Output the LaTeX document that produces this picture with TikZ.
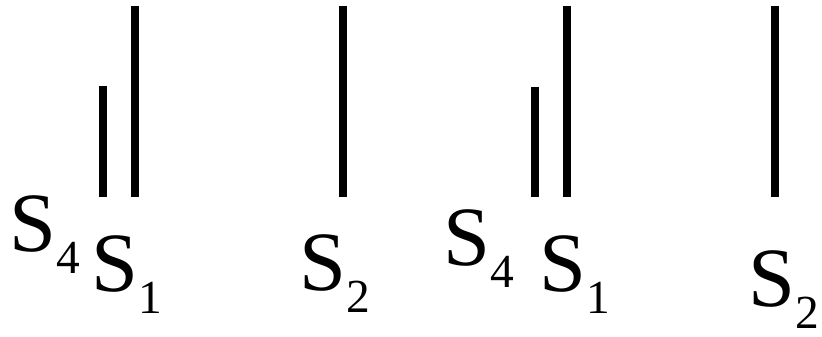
\documentclass[tikz,border=0pt]{standalone}
\usepackage{fontspec}
\setmainfont{Liberation Serif}
\usepackage{tikz}
\newcommand{\slabel}[1]{S\raisebox{-12pt}{\fontsize{27}{27}\selectfont #1}}

\begin{document}
\begin{tikzpicture}[
    x=0.02cm, y=-0.02cm,
    bar/.style={line width=4.5pt},
    lbl/.style={anchor=base west, inner sep=0pt,
                font=\fontsize{48}{48}\selectfont}
  ]
  \useasboundingbox (0,0) rectangle (822,337);

  % Bars
  \draw[bar] (103,86) -- (103,197);
  \draw[bar] (135,6)  -- (135,197);
  \draw[bar] (343,6)  -- (343,197);
  \draw[bar] (535,87) -- (535,197);
  \draw[bar] (567,6)  -- (567,197);
  \draw[bar] (775,6)  -- (775,197);

  % Labels
  \node[lbl] (s4a) at (9,252)   {\slabel{4}};
  \node[lbl] (s1a) at (91,292)  {\slabel{1}};
  \node[lbl] (s2a) at (299,291) {\slabel{2}};
  \node[lbl] (s4b) at (443,266) {\slabel{4}};
  \node[lbl] (s1b) at (539,292) {\slabel{1}};
  \node[lbl] (s2b) at (748,307) {\slabel{2}};
\end{tikzpicture}
\end{document}
